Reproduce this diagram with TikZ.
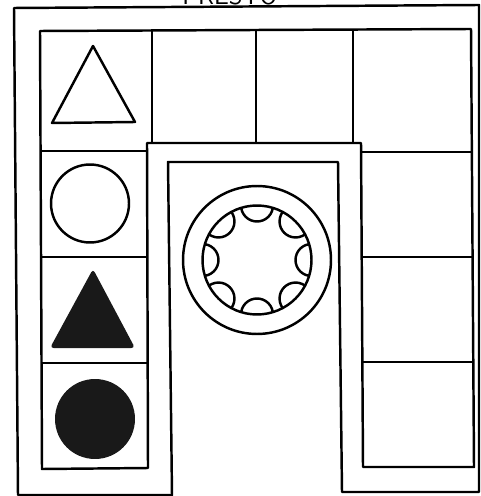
\documentclass[tikz,border=0pt]{standalone}
\usepackage{tikz}
\usetikzlibrary{positioning}

\begin{document}
\begin{tikzpicture}[
        x=0.02cm, y=-0.02cm,
        line width=1.4pt,
        line join=round,
        ring/.style={circle, draw, line width=1.4pt, inner sep=0pt},
        blob/.style={circle, fill=black!90, inner sep=0pt},
        title/.style={font=\sffamily\Large, anchor=base}
    ]
        \useasboundingbox (0,0) rectangle (480,496);
        \clip (0,0) rectangle (480,496);

        % Title, cut off at the top edge
        \node[title] (head) at (230,5) {PRESTO};

        % Outer edge of the board
        \draw (14,8) -- (479,5) -- (479,492) -- (342,492) -- (338,162)
            -- (168,162) -- (172,495) -- (18,495) -- cycle;

        % Edge of the track of cells
        \draw (40,31) -- (471,29) -- (474,467) -- (363,467) -- (361,143)
            -- (147,143) -- (148,468) -- (42,469) -- cycle;

        % Top row dividers
        \draw (152,31) -- (152,143);
        \draw (256,30) -- (256,143);
        \draw (353,29) -- (353,143);

        % Left column dividers
        \draw (40,151) -- (147,151);
        \draw (41,257) -- (148,257);
        \draw (42,363) -- (148,363);

        % Right column dividers
        \draw (361,152) -- (472,152);
        \draw (362,257) -- (473,257);
        \draw (362,362) -- (474,362);

        % Shapes in the left column
        \draw (52,123) -- (93,46) -- (135,122) -- cycle;
        \node[ring, minimum size=1.56cm] (ring1) at (90,203.5) {};
        \fill[black!90, rounded corners=2pt] (50,348) -- (93,269) -- (135,348) -- cycle;
        \node[blob, minimum size=1.6cm] (blob1) at (95,419) {};

        % Centre dial
        \coordinate (hub) at (257,260);
        \node[ring, minimum size=2.96cm] (dialout) at (hub) {};
        \node[ring, minimum size=2.18cm] (dialin) at (hub) {};
        \begin{scope}
            \clip (hub) circle (54.5);
            \foreach \a in {0,45,...,315}
                \draw (hub) ++(\a:54.5) circle (16);
        \end{scope}

    \end{tikzpicture}
\end{document}
